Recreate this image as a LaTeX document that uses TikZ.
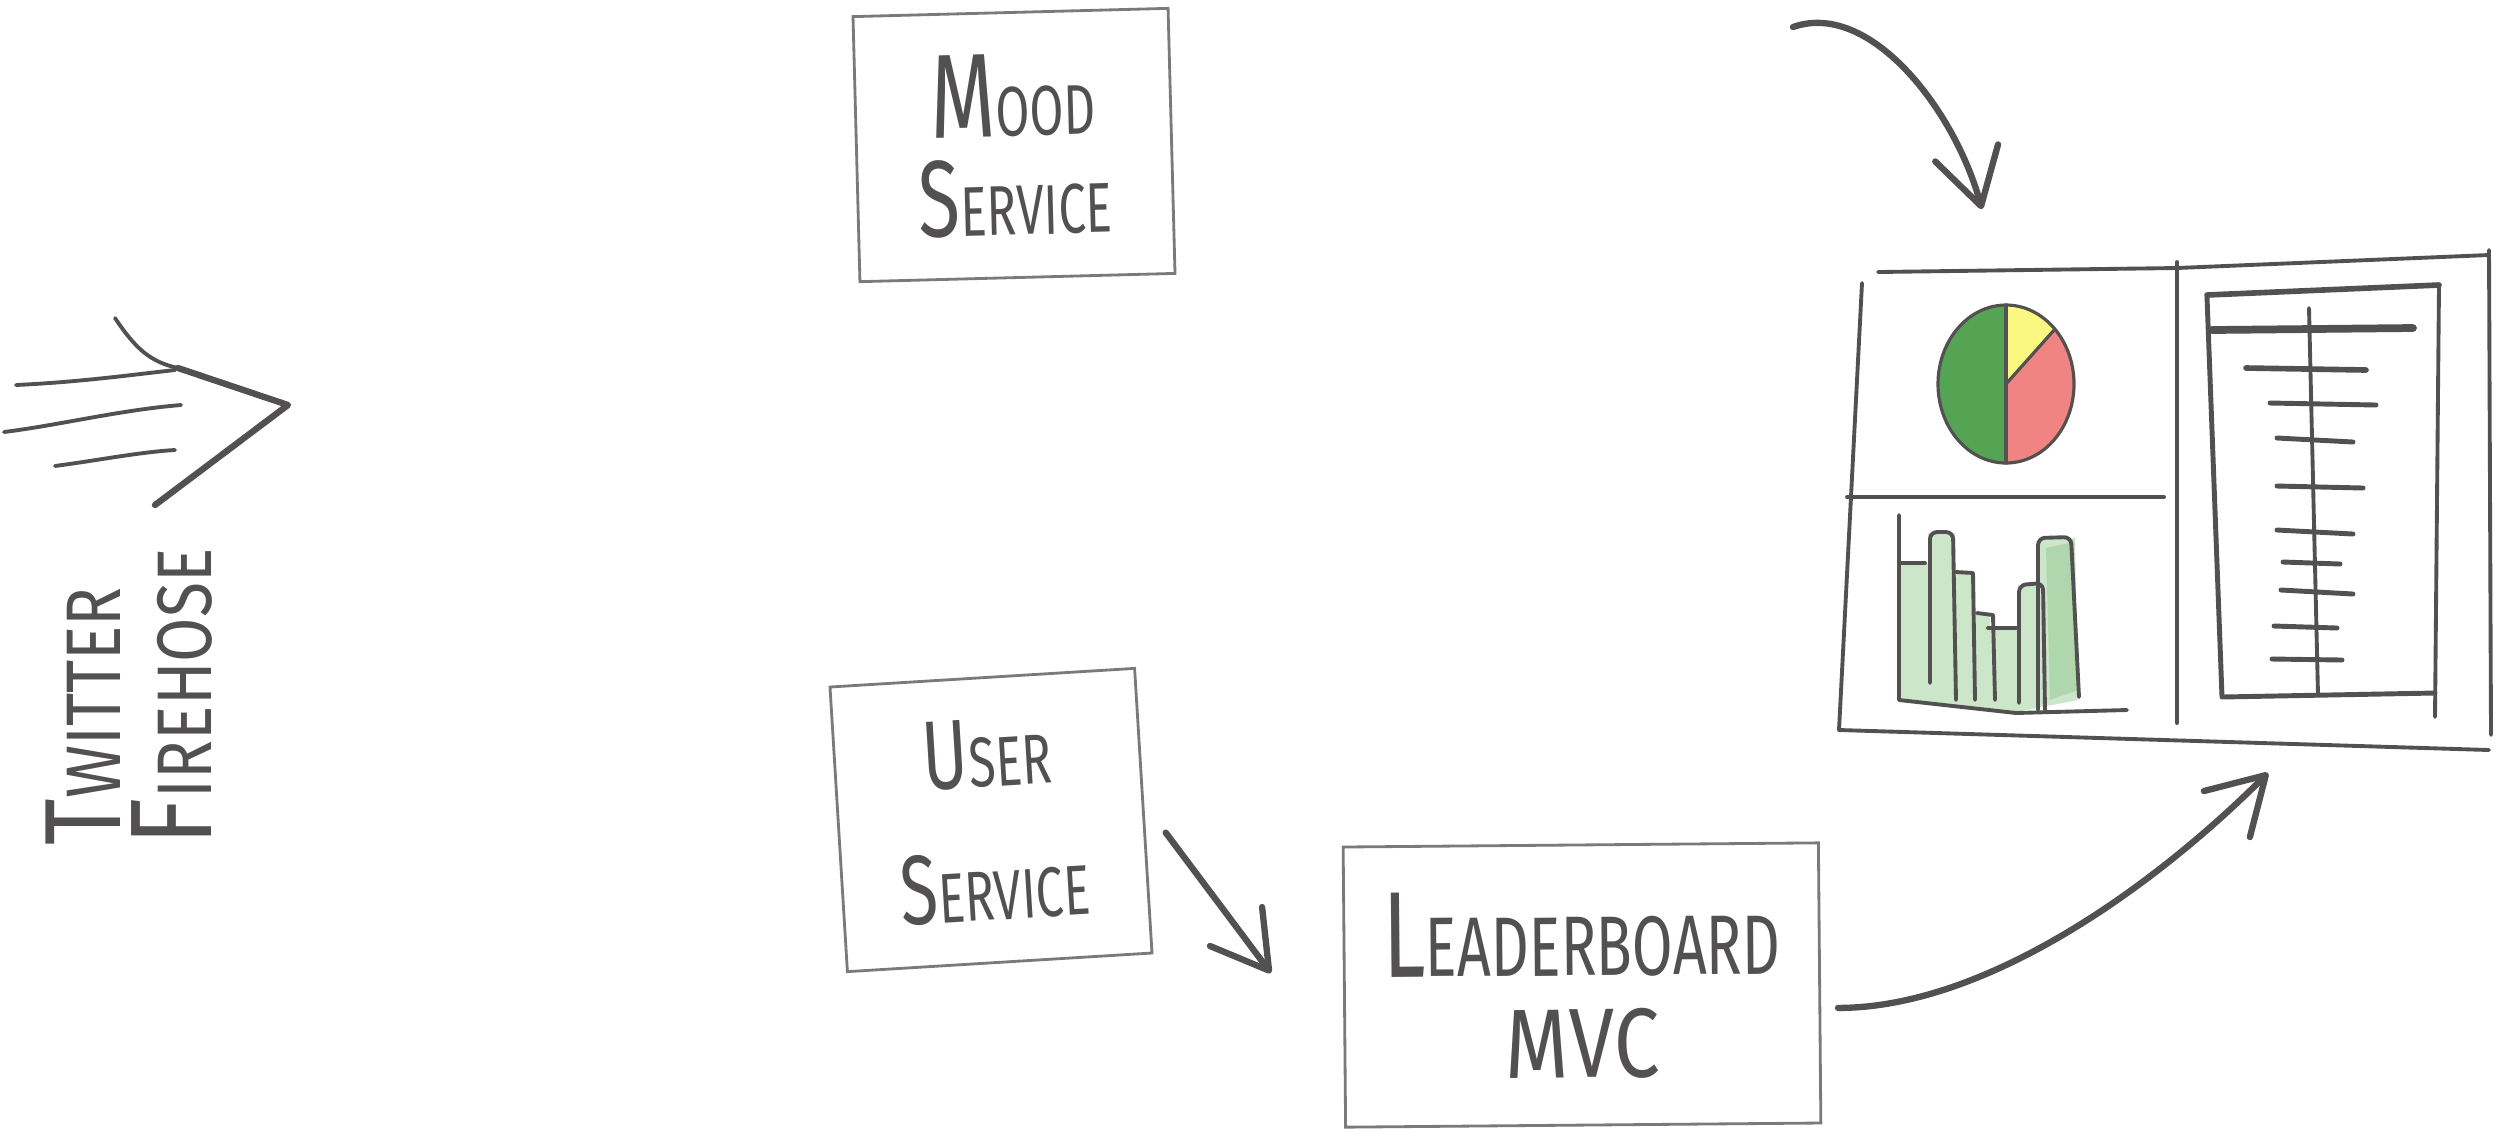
\documentclass[tikz,border=0pt]{standalone}
\usepackage{fontspec}
\setmainfont{Fira Sans}[FakeStretch=0.7]
\newfontfamily\widehand{Fira Sans}[FakeStretch=0.83]
\usepackage{graphicx}
\usepackage{tikz}
\usetikzlibrary{arrows.meta, calc, positioning}
\usepackage{xcolor}
\definecolor{Pencil}{cmyk}{0, 0, 0, 0.78}
\definecolor{LitePencil}{cmyk}{0, 0, 0, 0.60}
\definecolor{PieGreen}{RGB}{84, 164, 84}
\definecolor{PieYellow}{RGB}{250, 248, 128}
\definecolor{PieRed}{RGB}{240, 132, 130}
\definecolor{BarGreen}{RGB}{204, 230, 202}
\definecolor{BarGreenDark}{RGB}{176, 214, 174}
\newcommand{\firstcap}[3][1.55]{\scalebox{#1}{#2}#3}
\tikzset{%
  sketch_block/.style={%
    rectangle,%
    draw=LitePencil,%
    line width=0.8pt,%
    text=Pencil,%
    inner sep=0pt,%
    font={\fontsize{20}{28}\selectfont},%
    align=center%
  },
  sketch_text/.style={%
    text=Pencil,%
    inner sep=0pt,%
    font={\widehand\fontsize{22}{26}\selectfont},%
    align=left%
  },
  sketch_path/.style={%
    color=Pencil,%
    line width=1.8pt,%
    line cap=round,%
    line join=round,%
  },
  sketch_line/.style={%
    color=Pencil,%
    line width=1.1pt,%
    line cap=round,%
    line join=round,%
  },
  arrow/.style={-{Straight Barb[length=0.55cm, width=0.65cm, round]}},
}

\begin{document}
\begin{tikzpicture}[x=0.01cm, y=-0.01cm]
    \useasboundingbox (0,0) rectangle (2511,1138);

    \node[sketch_block, minimum width=3.15cm, minimum height=2.65cm, rotate=1.5]
      (Mood) at (1014,145) {\firstcap[1.7]{M}{OOD}\\\firstcap{S}{ERVICE}};
    \node[sketch_block, minimum width=3.05cm, minimum height=2.85cm, rotate=3.5]
      (User) at (991,820) {\firstcap[1.4]{U}{SER}\\[10pt]\firstcap[1.4]{S}{ERVICE}};
    \node[sketch_block, minimum width=4.75cm, minimum height=2.8cm, rotate=0.5,
      font={\fontsize{24}{29}\selectfont}]
      (Lead) at (1582,985) {\firstcap[1.45]{L}{EADERBOARD}\\{\widehand\fontsize{28}{29}\selectfont MVC}};
    \node[minimum width=6.5cm, minimum height=4.8cm] (Dash) at (2165,502) {};
    \node[sketch_text, rotate=90, anchor=north west]
      (Firehose) at (45,846) {\firstcap[1.4]{T}{WITTER}\\\firstcap[1.5]{F}{IREHOSE}};

    \draw[sketch_line]
      (115,318)
      .. controls (135,348) and (150,362) ..
      (178,368);
    \draw[sketch_path]
      (178,368)
      --
      (288,405)
      --
      (155,505);
    \draw[sketch_line]
      (16,385)
      .. controls (80,382) and (130,375) ..
      (175,370);
    \draw[sketch_line]
      (4,432)
      .. controls (60,425) and (120,410) ..
      (181,405);
    \draw[sketch_line]
      (55,466)
      .. controls (100,460) and (140,452) ..
      (175,450);

    \draw[sketch_path, arrow]
      (1793,27)
      .. controls (1870,0) and (1955,110) ..
      ([xshift=-1.83cm, yshift=0.52cm]Dash.north);
    \draw[sketch_path, arrow]
      ([xshift=0.21cm, yshift=-0.22cm]User.east)
      --
      ([xshift=-0.72cm, yshift=0.14cm]Lead.west);
    \draw[sketch_path, arrow]
      ([xshift=0.17cm, yshift=-0.25cm]Lead.east)
      .. controls +(150,0) and +(-110,110) ..
      ([xshift=1.03cm, yshift=-0.3cm]Dash.south);

    \draw[sketch_line] (1878,272) -- (2177,268) -- (2489,255);
    \draw[sketch_line] (1862,283) -- (1839,730) -- (2489,750);
    \draw[sketch_line] (2489,250) -- (2491,735);
    \draw[sketch_line] (2177,262) -- (2177,723);
    \draw[sketch_line] (1847,497) -- (2164,497);

    \coordinate (PieCenter) at (2006,384);
    \fill[PieGreen] (PieCenter) -- ++(90:68 and 79)
      arc[start angle=90, end angle=270, x radius=68, y radius=79] -- cycle;
    \fill[PieYellow] (PieCenter) -- ++(-90:68 and 79)
      arc[start angle=-90, end angle=-44, x radius=68, y radius=79] -- cycle;
    \fill[PieRed] (PieCenter) -- ++(-44:68 and 79)
      arc[start angle=-44, end angle=90, x radius=68, y radius=79] -- cycle;
    \draw[sketch_line, line width=0.9pt] (PieCenter) ellipse [x radius=68, y radius=79];
    \draw[sketch_line, line width=0.9pt] (PieCenter) -- ++(-90:68 and 79);
    \draw[sketch_line, line width=0.9pt] (PieCenter) -- ++(90:68 and 79);
    \draw[sketch_line, line width=0.9pt] (PieCenter) -- ++(-44:68 and 79);

    \fill[BarGreen] (1899,563) -- (1928,563) -- (1928,533) -- (1955,533)
      -- (1955,572) -- (1975,572) -- (1975,613) -- (1990,613) -- (1990,628)
      -- (2018,628) -- (2018,585) -- (2040,585) -- (2040,538) -- (2075,538)
      -- (2078,700) -- (2016,712) -- (1899,700) -- cycle;
    \fill[BarGreenDark] (2046,548) -- (2074,542) -- (2078,690) -- (2050,700) -- cycle;
    \draw[sketch_line] (1899,515) -- (1899,700) -- (2016,713) -- (2127,710);
    \draw[sketch_line] (1899,563) -- (1925,563);
    \draw[sketch_line, rounded corners=2pt] (1930,683) -- (1930,532) -- (1953,532) -- (1956,700);
    \draw[sketch_line] (1956,572) -- (1973,573) -- (1975,700);
    \draw[sketch_line] (1977,613) -- (1993,615) -- (1995,700);
    \draw[sketch_line] (1988,628) -- (2016,628);
    \draw[sketch_line, rounded corners=2pt] (2019,703) -- (2019,585) -- (2043,583) -- (2045,710);
    \draw[sketch_line, rounded corners=2pt] (2038,710) -- (2038,538) -- (2071,537) -- (2079,697);

    \draw[sketch_line, line width=1.6pt] (2207,295) -- (2439,285);
    \draw[sketch_line] (2439,285) -- (2435,717);
    \draw[sketch_line, line width=1.4pt] (2207,297) -- (2222,697) -- (2435,693);
    \draw[sketch_line, line width=2.2pt] (2212,330) -- (2413,328);
    \draw[sketch_line] (2309,308) -- (2318,695);
    \draw[sketch_line, line width=1.6pt] (2246,368) -- (2366,370);
    \draw[sketch_line, line width=1.4pt] (2270,403) -- (2376,405);
    \draw[sketch_line, line width=1.4pt] (2277,438) -- (2353,442);
    \draw[sketch_line, line width=1.4pt] (2277,486) -- (2363,488);
    \draw[sketch_line, line width=1.4pt] (2277,530) -- (2353,534);
    \draw[sketch_line, line width=1.4pt] (2283,562) -- (2340,564);
    \draw[sketch_line, line width=1.4pt] (2281,590) -- (2353,594);
    \draw[sketch_line, line width=1.4pt] (2274,626) -- (2337,628);
    \draw[sketch_line, line width=1.4pt] (2272,659) -- (2342,660);

\end{tikzpicture}
\end{document}
